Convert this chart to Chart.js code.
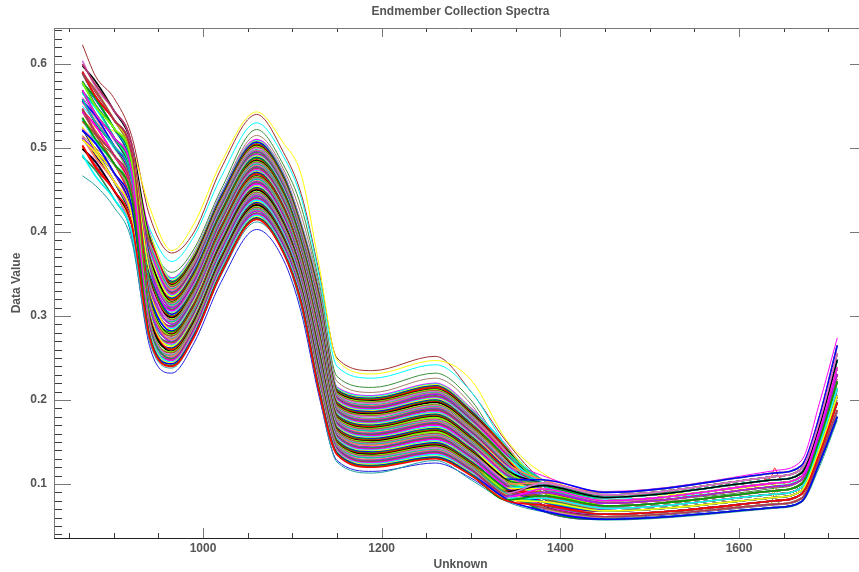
<!DOCTYPE html>
<html>
<head>
<meta charset="utf-8">
<title>Endmember Collection Spectra</title>
<script src="https://cdn.jsdelivr.net/npm/chart.js@4"></script>
<style>
html, body { margin: 0; padding: 0; background: #fff; overflow: hidden; }
#wrap { width: 859px; height: 572px; overflow: hidden; }
</style>
</head>
<body>
<div id="wrap"><canvas id="grafica" width="868" height="572"></canvas></div>
<script>
// wavelengths shared by every spectrum
const wavelengths = [865,880,900,920,940,965,990,1020,1060,1090,1110,1130,1150,1190,1260,1300,1340,1380,1450,1640,1670,1690,1710];

const s00 = [.503,.478,.450,.410,.275,.240,.275,.350,.415,.375,.315,.210,.135,.120,.130,.110,.080,.075,.064,.080,.088,.136,.197];
const h00 = [.536,.510,.482,.442,.277,.241,.276,.351,.416,.376,.316,.212,.136,.121,.131,.111,.081,.086,.074,.092,.100,.152,.222];
const s01 = [.521,.505,.471,.431,.278,.243,.278,.352,.417,.377,.317,.213,.137,.122,.132,.112,.082,.068,.058,.072,.079,.125,.180];
const h01 = [.510,.494,.461,.421,.280,.244,.279,.353,.418,.378,.318,.215,.138,.123,.133,.113,.082,.079,.068,.084,.092,.141,.205];
const s02 = [.492,.466,.440,.400,.281,.245,.280,.355,.420,.380,.320,.216,.139,.124,.135,.114,.083,.083,.071,.088,.096,.147,.214];
const h02 = [.569,.540,.513,.473,.283,.247,.282,.356,.421,.381,.321,.218,.140,.125,.136,.115,.084,.094,.080,.101,.109,.163,.239];
const s03 = [.547,.518,.492,.452,.284,.248,.283,.357,.422,.382,.322,.219,.141,.126,.137,.116,.085,.072,.061,.076,.083,.130,.188];
const h03 = [.490,.473,.440,.400,.286,.249,.284,.358,.423,.383,.323,.221,.142,.127,.138,.117,.085,.075,.064,.080,.088,.136,.197];
const s04 = [.510,.494,.461,.421,.288,.250,.285,.360,.425,.385,.325,.222,.143,.128,.139,.118,.086,.090,.077,.097,.105,.158,.231];
const h04 = [.547,.520,.492,.452,.289,.252,.287,.361,.426,.386,.326,.224,.144,.129,.140,.119,.087,.083,.071,.088,.096,.147,.214];
const s05 = [.558,.530,.503,.463,.291,.253,.288,.362,.427,.387,.327,.225,.145,.131,.141,.120,.088,.079,.068,.084,.092,.141,.205];
const h05 = [.523,.505,.471,.431,.292,.254,.289,.363,.428,.388,.328,.227,.146,.132,.143,.121,.089,.101,.087,.109,.118,.174,.256];
const s06 = [.532,.515,.482,.442,.294,.256,.290,.364,.429,.389,.329,.228,.147,.133,.144,.122,.090,.086,.074,.092,.100,.152,.222];
const h06 = [.578,.549,.524,.484,.295,.257,.291,.365,.430,.390,.330,.230,.148,.134,.145,.123,.090,.072,.061,.076,.083,.130,.188];
const s07 = [.499,.483,.450,.410,.297,.258,.293,.367,.432,.392,.332,.231,.149,.135,.146,.124,.091,.098,.084,.105,.113,.169,.248];
const h07 = [.503,.476,.450,.410,.299,.260,.294,.368,.433,.393,.333,.233,.150,.136,.147,.125,.092,.090,.077,.097,.105,.158,.231];
const s08 = [.569,.540,.513,.473,.300,.261,.295,.369,.434,.394,.334,.234,.151,.137,.148,.126,.093,.068,.058,.072,.079,.125,.180];
const h08 = [.556,.538,.503,.463,.302,.262,.296,.370,.435,.395,.335,.236,.152,.138,.149,.127,.094,.079,.068,.084,.092,.141,.205];
const s09 = [.525,.498,.471,.431,.303,.264,.298,.371,.436,.396,.336,.237,.153,.139,.150,.128,.095,.094,.080,.101,.109,.163,.239];
const h09 = [.534,.508,.482,.442,.305,.265,.299,.373,.438,.398,.338,.239,.154,.140,.151,.129,.095,.098,.084,.105,.113,.169,.248];
const s10 = [.543,.526,.492,.452,.306,.266,.300,.374,.439,.399,.339,.240,.155,.141,.153,.130,.096,.075,.064,.080,.088,.136,.197];
const h10 = [.589,.568,.534,.494,.308,.268,.302,.375,.440,.400,.340,.242,.156,.142,.154,.131,.097,.086,.074,.092,.100,.152,.222];
const s11 = [.580,.551,.524,.484,.309,.269,.303,.376,.441,.401,.341,.243,.157,.143,.155,.132,.098,.083,.071,.088,.096,.147,.214];
const h11 = [.512,.496,.461,.421,.311,.270,.304,.378,.443,.403,.343,.245,.158,.144,.156,.133,.099,.068,.058,.072,.079,.125,.180];
const s12 = [.514,.488,.461,.421,.313,.272,.305,.379,.444,.404,.344,.246,.159,.146,.157,.134,.100,.101,.087,.109,.118,.174,.256];
const h12 = [.567,.549,.513,.473,.314,.273,.307,.380,.445,.405,.345,.248,.160,.147,.158,.135,.100,.094,.080,.101,.109,.163,.239];
const s13 = [.554,.536,.503,.463,.316,.274,.308,.381,.446,.406,.346,.249,.161,.148,.159,.136,.101,.072,.061,.076,.083,.130,.188];
const h13 = [.545,.518,.492,.452,.317,.276,.309,.382,.447,.407,.347,.251,.162,.149,.160,.137,.102,.083,.071,.088,.096,.147,.214];
const s14 = [.536,.509,.482,.442,.319,.277,.310,.383,.448,.408,.348,.252,.163,.150,.162,.138,.103,.090,.077,.097,.105,.158,.231];
const h14 = [.523,.498,.471,.431,.320,.278,.311,.385,.450,.410,.350,.254,.164,.151,.163,.139,.104,.075,.064,.080,.088,.136,.197];
const s15 = [.591,.561,.534,.494,.322,.279,.313,.386,.451,.411,.351,.255,.165,.152,.164,.140,.104,.079,.068,.084,.092,.141,.205];
const h15 = [.578,.559,.524,.484,.324,.281,.314,.387,.452,.412,.352,.257,.166,.153,.165,.141,.105,.098,.084,.105,.113,.169,.248];
const s16 = [.521,.505,.471,.431,.325,.282,.315,.388,.453,.413,.353,.258,.167,.154,.166,.142,.106,.105,.090,.113,.122,.180,.265];
const h16 = [.501,.478,.450,.410,.327,.283,.317,.389,.454,.414,.354,.260,.168,.155,.167,.143,.107,.090,.077,.097,.105,.158,.231];
const s17 = [.565,.547,.513,.473,.328,.285,.318,.390,.455,.415,.355,.261,.169,.156,.168,.144,.108,.086,.074,.092,.100,.152,.222];
const h17 = [.556,.530,.503,.463,.330,.286,.319,.392,.457,.417,.357,.263,.170,.157,.170,.145,.108,.072,.061,.076,.083,.130,.188];
const s18 = [.543,.518,.492,.452,.331,.287,.320,.393,.458,.418,.358,.264,.171,.158,.171,.146,.109,.075,.064,.080,.088,.136,.197];
const h18 = [.589,.561,.534,.494,.333,.288,.321,.394,.459,.419,.359,.266,.172,.159,.172,.147,.110,.101,.087,.109,.118,.174,.256];
const s19 = [.499,.484,.450,.410,.334,.290,.323,.395,.460,.420,.360,.267,.173,.160,.173,.148,.111,.094,.080,.101,.109,.163,.239];
const h19 = [.534,.516,.482,.442,.336,.291,.324,.396,.461,.421,.361,.269,.174,.161,.174,.149,.112,.079,.068,.084,.092,.141,.205];
const s20 = [.576,.558,.524,.484,.338,.293,.325,.398,.463,.423,.363,.270,.175,.163,.175,.150,.113,.068,.058,.072,.079,.125,.180];
const h20 = [.512,.488,.461,.421,.339,.294,.326,.399,.464,.424,.364,.272,.176,.164,.176,.151,.113,.086,.074,.092,.100,.152,.222];
const s21 = [.536,.508,.482,.442,.341,.295,.328,.400,.465,.425,.365,.273,.177,.165,.177,.152,.114,.083,.071,.088,.096,.147,.214];
const h21 = [.567,.541,.513,.473,.342,.296,.329,.401,.466,.426,.366,.275,.178,.166,.179,.153,.115,.094,.080,.101,.109,.163,.239];
const s22 = [.558,.529,.503,.463,.344,.298,.330,.402,.467,.427,.367,.276,.179,.167,.180,.154,.116,.101,.087,.109,.118,.174,.256];
const h22 = [.545,.526,.492,.452,.345,.299,.331,.404,.469,.429,.369,.278,.180,.168,.181,.155,.116,.075,.064,.080,.088,.136,.197];
const s23 = [.510,.496,.461,.421,.347,.300,.333,.405,.470,.430,.370,.279,.181,.169,.182,.156,.117,.090,.077,.097,.105,.158,.231];
const h23 = [.523,.497,.471,.431,.349,.302,.334,.406,.471,.431,.371,.281,.182,.170,.183,.157,.118,.083,.071,.088,.096,.147,.214];
const s24 = [.589,.568,.534,.494,.350,.303,.335,.407,.472,.432,.372,.282,.183,.171,.184,.158,.119,.072,.061,.076,.083,.130,.188];
const h24 = [.578,.550,.524,.484,.352,.304,.336,.408,.473,.433,.373,.284,.184,.172,.185,.159,.120,.098,.084,.105,.113,.169,.248];
const s25 = [.547,.519,.492,.452,.353,.306,.338,.409,.474,.434,.374,.285,.185,.173,.186,.160,.121,.098,.084,.105,.113,.169,.248];
const h25 = [.600,.575,.545,.505,.355,.307,.339,.411,.476,.436,.376,.287,.186,.174,.188,.161,.121,.068,.058,.072,.079,.125,.180];
const s26 = [.567,.540,.513,.473,.356,.308,.340,.412,.477,.437,.377,.288,.187,.175,.189,.162,.122,.079,.068,.084,.092,.141,.205];
const h26 = [.534,.510,.482,.442,.358,.310,.342,.413,.478,.438,.378,.290,.188,.176,.190,.163,.123,.090,.077,.097,.105,.158,.231];
const s27 = [.523,.506,.471,.431,.359,.311,.343,.414,.479,.439,.379,.291,.189,.177,.191,.164,.124,.105,.090,.113,.122,.180,.265];
const h27 = [.556,.537,.503,.463,.361,.313,.344,.416,.481,.441,.381,.293,.190,.178,.192,.165,.125,.101,.087,.109,.118,.174,.256];
const s28 = [.604,.572,.545,.505,.363,.314,.345,.417,.482,.442,.382,.294,.191,.180,.193,.166,.126,.086,.074,.092,.100,.152,.222];
const h28 = [.589,.560,.534,.494,.364,.315,.346,.418,.483,.443,.383,.296,.192,.181,.194,.167,.126,.079,.068,.084,.092,.141,.205];
const s29 = [.556,.536,.503,.463,.366,.316,.348,.419,.484,.444,.384,.297,.193,.182,.195,.168,.127,.075,.064,.080,.088,.136,.197];
const h29 = [.512,.490,.461,.421,.367,.317,.349,.420,.485,.445,.385,.299,.194,.183,.197,.169,.128,.086,.074,.092,.100,.152,.222];
const s30 = [.534,.509,.482,.442,.369,.319,.350,.421,.486,.446,.386,.300,.195,.184,.198,.170,.129,.094,.080,.101,.109,.163,.239];
const h30 = [.567,.549,.513,.473,.370,.320,.351,.423,.488,.448,.388,.302,.196,.185,.199,.171,.130,.072,.061,.076,.083,.130,.188];
const s31 = [.578,.557,.524,.484,.372,.321,.353,.424,.489,.449,.389,.303,.197,.186,.200,.172,.130,.083,.071,.088,.096,.147,.214];
const h31 = [.547,.519,.492,.452,.373,.323,.354,.425,.490,.450,.390,.305,.198,.187,.201,.173,.131,.094,.080,.101,.109,.163,.239];
const s32 = [.545,.518,.492,.452,.375,.324,.355,.426,.491,.451,.391,.306,.199,.188,.202,.174,.132,.101,.087,.109,.118,.174,.256];
const h32 = [.523,.498,.471,.431,.377,.325,.356,.427,.492,.452,.392,.308,.200,.189,.203,.175,.133,.083,.071,.088,.096,.147,.214];
const s33 = [.591,.566,.534,.494,.378,.327,.358,.428,.493,.453,.393,.309,.201,.190,.204,.176,.134,.072,.061,.076,.083,.130,.188];
const h33 = [.578,.558,.524,.484,.380,.328,.359,.430,.495,.455,.395,.311,.202,.191,.205,.177,.134,.098,.084,.105,.113,.169,.248];
const s34 = [.567,.540,.513,.473,.381,.329,.360,.431,.496,.456,.396,.312,.203,.192,.207,.178,.135,.090,.077,.097,.105,.158,.231];
const h34 = [.556,.530,.503,.463,.383,.331,.362,.432,.497,.457,.397,.314,.204,.193,.208,.179,.136,.075,.064,.080,.088,.136,.197];
const s35 = [.512,.494,.461,.421,.384,.332,.363,.433,.498,.458,.398,.315,.205,.194,.209,.180,.137,.105,.090,.113,.122,.180,.265];
const h35 = [.501,.476,.450,.410,.386,.333,.364,.435,.500,.460,.400,.317,.206,.196,.210,.181,.138,.090,.077,.097,.105,.158,.231];
const s36 = [.556,.531,.503,.463,.388,.335,.365,.436,.501,.461,.401,.318,.207,.197,.211,.182,.139,.079,.068,.084,.092,.141,.205];
const h36 = [.589,.569,.534,.494,.389,.336,.366,.437,.502,.462,.402,.320,.208,.198,.212,.183,.139,.101,.087,.109,.118,.174,.256];
const s37 = [.598,.579,.545,.505,.391,.337,.368,.438,.503,.463,.403,.321,.209,.199,.213,.184,.140,.098,.084,.105,.113,.169,.248];
const h37 = [.534,.509,.482,.442,.392,.338,.369,.439,.504,.464,.404,.323,.210,.200,.215,.185,.141,.083,.071,.088,.096,.147,.214];
const s38 = [.578,.550,.524,.484,.394,.340,.370,.440,.505,.465,.405,.324,.211,.201,.216,.186,.142,.086,.074,.092,.100,.152,.222];
const h38 = [.567,.549,.513,.473,.395,.341,.371,.442,.507,.467,.407,.326,.212,.202,.217,.187,.142,.094,.080,.101,.109,.163,.239];
const s39 = [.534,.516,.482,.442,.397,.342,.373,.443,.508,.468,.408,.327,.213,.203,.218,.188,.143,.101,.087,.109,.118,.174,.256];
const h39 = [.545,.518,.492,.452,.398,.344,.374,.444,.509,.469,.409,.329,.214,.204,.219,.189,.144,.079,.068,.084,.092,.141,.205];
const s40 = [.589,.560,.534,.494,.400,.345,.375,.445,.510,.470,.410,.330,.215,.205,.220,.190,.145,.094,.080,.101,.109,.163,.239];

const bandSeries = [s00,h00,s01,h01,s02,h02,s03,h03,s04,h04,s05,h05,s06,h06,s07,h07,s08,h08,s09,h09,s10,h10,s11,h11,s12,h12,s13,h13,s14,h14,s15,h15,s16,h16,s17,h17,s18,h18,s19,h19,s20,h20,s21,h21,s22,h22,s23,h23,s24,h24,s25,h25,s26,h26,s27,h27,s28,h28,s29,h29,s30,h30,s31,h31,s32,h32,s33,h33,s34,h34,s35,h35,s36,h36,s37,h37,s38,h38,s39,h39,s40];
const palette = ["#ff0000","#00a000","#0000ff","#ffff00","#00ffff","#ff00ff","#b03060","#2e8b57","#a020f0","#ff7f50","#00c8a0","#da70d6","#a0522d","#7fff00","#000000"];

// the lines that stand apart from the main band
const magentaTop = [.560,.540,.510,.470,.350,.310,.340,.410,.480,.440,.380,.280,.190,.175,.190,.165,.130,.110,.091,.116,.128,.196,.274];
const tealLow = [.467,.455,.430,.390,.270,.238,.275,.348,.412,.375,.310,.208,.126,.113,.128,.105,.079,.067,.057,.071,.078,.120,.176];
const blueLow = [.500,.480,.450,.395,.265,.232,.268,.340,.403,.367,.304,.204,.128,.115,.125,.107,.080,.070,.060,.075,.082,.125,.185];
const brownUp = [.515,.500,.480,.445,.380,.345,.372,.445,.515,.475,.420,.335,.222,.209,.226,.195,.130,.098,.078,.092,.102,.148,.200];
const greenUp = [.520,.510,.490,.455,.390,.352,.380,.450,.522,.480,.430,.340,.228,.215,.232,.200,.135,.100,.080,.095,.105,.150,.205];
const cyanUp = [.550,.530,.500,.470,.405,.365,.395,.465,.530,.490,.440,.348,.240,.226,.242,.210,.145,.105,.082,.098,.108,.155,.210];
const yellowUp = [.530,.525,.520,.500,.430,.378,.410,.482,.543,.506,.468,.360,.248,.231,.247,.224,.152,.113,.085,.100,.110,.160,.220];
const maroonUp = [.623,.585,.560,.515,.420,.375,.400,.475,.540,.495,.445,.352,.250,.235,.252,.210,.150,.105,.087,.105,.115,.165,.225];
const outliers = [magentaTop,tealLow,blueLow,brownUp,greenUp,cyanUp,yellowUp,maroonUp];
const outlierColours = ["#ff00ff","#20a0a0","#2020e0","#a0806a","#3c8f3c","#00ffff","#ffff00","#a02c2c"];

// short spikes around 1640 that a few spectra show
const spikeX = [1628,1636,1640,1644,1652];
const spikeRed = [.105,.108,.119,.109,.106];
const spikeYellow = [.082,.084,.100,.086,.084];
const spikeGreen = [.074,.076,.090,.078,.076];

const yTicksMajor = 0.1, yTicksMinor = 0.01, xTicksMajor = 200, xTicksMinor = 50;

// tick marks point inward on all four sides, the way the original plot has them
const inwardTicks = {
  id: "inwardTicks",
  afterDraw(chart) {
    const ctx = chart.ctx, a = chart.chartArea, xs = chart.scales.x, ys = chart.scales.y;
    ctx.save();
    ctx.lineWidth = 1;
    for (let v = Math.ceil(xs.min / xTicksMinor) * xTicksMinor; v <= xs.max; v += xTicksMinor) {
      const p = Math.round(xs.getPixelForValue(v)) + 0.5;
      const major = v % xTicksMajor === 0;
      ctx.strokeStyle = major ? "#777" : "#3c3c3c";
      ctx.beginPath();
      ctx.moveTo(p, a.bottom); ctx.lineTo(p, a.bottom - (major ? 10 : 5));
      ctx.moveTo(p, a.top); ctx.lineTo(p, a.top + (major ? 9 : 4));
      ctx.stroke();
    }
    const n = Math.round(ys.max / yTicksMinor);
    for (let k = Math.ceil(ys.min / yTicksMinor); k <= n; k++) {
      const p = Math.round(ys.getPixelForValue(k * yTicksMinor)) + 0.5;
      const major = k % 10 === 0;
      ctx.strokeStyle = major ? "#777" : "#3c3c3c";
      ctx.beginPath();
      ctx.moveTo(a.left, p); ctx.lineTo(a.left + (major ? 17 : 8), p);
      ctx.moveTo(a.right, p); ctx.lineTo(a.right - (major ? 17 : 8), p);
      ctx.stroke();
    }
    // frame
    ctx.strokeStyle = "#777";
    ctx.beginPath();
    ctx.moveTo(a.left + 0.5, a.top); ctx.lineTo(a.left + 0.5, a.bottom);
    ctx.moveTo(a.left, a.top + 0.5); ctx.lineTo(a.right, a.top + 0.5);
    ctx.moveTo(a.right - 0.5, a.top); ctx.lineTo(a.right - 0.5, a.bottom);
    ctx.stroke();
    ctx.strokeStyle = "#222";
    ctx.beginPath();
    ctx.moveTo(a.left, a.bottom + 0.5); ctx.lineTo(a.right, a.bottom + 0.5);
    ctx.stroke();
    ctx.restore();
  }
};

function spectrumDataset(xs, ys, colour, width) {
  return {
    data: ys.map((valor, j) => ({ x: xs[j], y: valor })),
    borderColor: colour,
    borderWidth: width,
    pointRadius: 0,
    cubicInterpolationMode: "monotone",
  };
}

const labelFont = { family: "'Liberation Sans'", size: 12, weight: "bold" };

new Chart(document.getElementById("grafica"), {
  type: "line",
  data: {
    datasets: [
      ...bandSeries.map((serie, i) => spectrumDataset(wavelengths, serie, palette[i % palette.length], 1.6)),
      ...outliers.map((serie, i) => spectrumDataset(wavelengths, serie, outlierColours[i], 1)),
      spectrumDataset(spikeX, spikeRed, "#ff0000", 1),
      spectrumDataset(spikeX, spikeYellow, "#ffd000", 1),
      spectrumDataset(spikeX, spikeGreen, "#80a000", 1),
    ],
  },
  plugins: [inwardTicks],
  options: {
    responsive: false,
    animation: false,
    layout: { padding: { right: 1 } },
    scales: {
      x: {
        type: "linear",
        min: 833.2,
        max: 1743.3,
        afterFit(scale) { scale.height = 34; },
        grid: { display: false, drawTicks: false },
        border: { display: false },
        ticks: { stepSize: xTicksMajor, includeBounds: false, color: "#555", font: labelFont, padding: 3, maxRotation: 0, callback: (v) => String(v) },
        title: { display: true, text: "Unknown", color: "#555", font: labelFont, padding: { top: 2, bottom: 0 } },
      },
      y: {
        min: 0.0357,
        max: 0.6429,
        afterFit(scale) { scale.width = 54; },
        grid: { display: false, drawTicks: false },
        border: { display: false },
        ticks: { stepSize: yTicksMajor, includeBounds: false, color: "#555", font: labelFont, padding: 7, callback: (v) => v.toFixed(1) },
        title: { display: true, text: "Data Value", color: "#555", font: labelFont, padding: { top: 9, bottom: 0 } },
      },
    },
    plugins: {
      legend: { display: false },
      tooltip: { enabled: false },
      title: {
        display: true,
        fullSize: false,
        text: "Endmember Collection Spectra",
        color: "#555",
        font: { family: "'Liberation Sans'", size: 12, weight: "bold" },
        padding: { top: 4, bottom: 9.6 },
      },
    },
  },
});
</script>
</body>
</html>
